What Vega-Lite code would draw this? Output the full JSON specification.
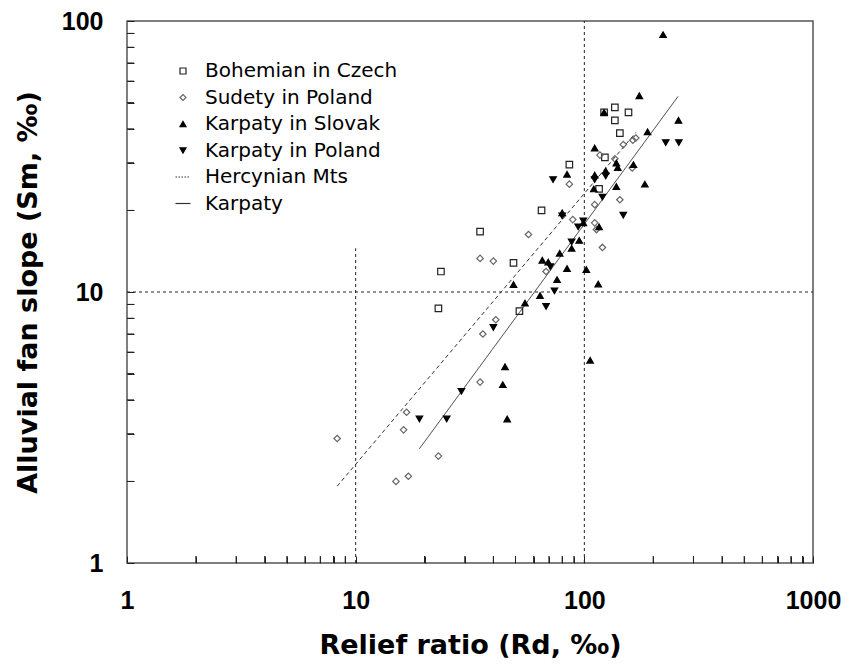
{
  "$schema": "https://vega.github.io/schema/vega-lite/v6.json",
  "autosize": {"type": "none"},
  "width": 686,
  "height": 542,
  "padding": {"left": 127, "top": 21, "right": 40, "bottom": 102},
  "background": "white",
  "config": {
    "view": {"stroke": "#555", "strokeWidth": 1.5, "fill": null}
  },
  "datasets": {
    "pts": [
      {"series": "Bohemian in Czech", "rd": 122, "sm": 46},
      {"series": "Bohemian in Czech", "rd": 136, "sm": 48},
      {"series": "Bohemian in Czech", "rd": 156, "sm": 46},
      {"series": "Bohemian in Czech", "rd": 136, "sm": 43},
      {"series": "Bohemian in Czech", "rd": 143, "sm": 38.6},
      {"series": "Bohemian in Czech", "rd": 123, "sm": 31.4},
      {"series": "Bohemian in Czech", "rd": 86, "sm": 29.5},
      {"series": "Bohemian in Czech", "rd": 116, "sm": 24},
      {"series": "Bohemian in Czech", "rd": 65, "sm": 20},
      {"series": "Bohemian in Czech", "rd": 35, "sm": 16.7},
      {"series": "Bohemian in Czech", "rd": 49, "sm": 12.8},
      {"series": "Bohemian in Czech", "rd": 23.6, "sm": 11.9},
      {"series": "Bohemian in Czech", "rd": 52, "sm": 8.5},
      {"series": "Bohemian in Czech", "rd": 23, "sm": 8.7},
      {"series": "Sudety in Poland", "rd": 148, "sm": 35},
      {"series": "Sudety in Poland", "rd": 163, "sm": 36.3},
      {"series": "Sudety in Poland", "rd": 168, "sm": 37},
      {"series": "Sudety in Poland", "rd": 117, "sm": 32},
      {"series": "Sudety in Poland", "rd": 136, "sm": 31},
      {"series": "Sudety in Poland", "rd": 162, "sm": 28.7},
      {"series": "Sudety in Poland", "rd": 86, "sm": 25},
      {"series": "Sudety in Poland", "rd": 143, "sm": 21.9},
      {"series": "Sudety in Poland", "rd": 111, "sm": 21},
      {"series": "Sudety in Poland", "rd": 57, "sm": 16.3},
      {"series": "Sudety in Poland", "rd": 89, "sm": 18.5},
      {"series": "Sudety in Poland", "rd": 111, "sm": 18},
      {"series": "Sudety in Poland", "rd": 113, "sm": 17},
      {"series": "Sudety in Poland", "rd": 120, "sm": 14.6},
      {"series": "Sudety in Poland", "rd": 68, "sm": 11.9},
      {"series": "Sudety in Poland", "rd": 40, "sm": 13},
      {"series": "Sudety in Poland", "rd": 35, "sm": 13.3},
      {"series": "Sudety in Poland", "rd": 41, "sm": 7.9},
      {"series": "Sudety in Poland", "rd": 36, "sm": 7.0},
      {"series": "Sudety in Poland", "rd": 35, "sm": 4.65},
      {"series": "Sudety in Poland", "rd": 16.7, "sm": 3.6},
      {"series": "Sudety in Poland", "rd": 16.2, "sm": 3.1},
      {"series": "Sudety in Poland", "rd": 8.3, "sm": 2.88},
      {"series": "Sudety in Poland", "rd": 23, "sm": 2.48},
      {"series": "Sudety in Poland", "rd": 17, "sm": 2.09},
      {"series": "Sudety in Poland", "rd": 15, "sm": 2.0},
      {"series": "Karpaty in Slovak", "rd": 221, "sm": 89},
      {"series": "Karpaty in Slovak", "rd": 174, "sm": 53},
      {"series": "Karpaty in Slovak", "rd": 122, "sm": 46},
      {"series": "Karpaty in Slovak", "rd": 258, "sm": 43},
      {"series": "Karpaty in Slovak", "rd": 189, "sm": 39},
      {"series": "Karpaty in Slovak", "rd": 111, "sm": 34},
      {"series": "Karpaty in Slovak", "rd": 138, "sm": 29.9},
      {"series": "Karpaty in Slovak", "rd": 140, "sm": 28.8},
      {"series": "Karpaty in Slovak", "rd": 164, "sm": 29.5},
      {"series": "Karpaty in Slovak", "rd": 84, "sm": 27.2},
      {"series": "Karpaty in Slovak", "rd": 111, "sm": 27},
      {"series": "Karpaty in Slovak", "rd": 124, "sm": 28},
      {"series": "Karpaty in Slovak", "rd": 138, "sm": 24.5},
      {"series": "Karpaty in Slovak", "rd": 184, "sm": 25},
      {"series": "Karpaty in Slovak", "rd": 110, "sm": 24},
      {"series": "Karpaty in Slovak", "rd": 99, "sm": 18},
      {"series": "Karpaty in Slovak", "rd": 116, "sm": 17.4},
      {"series": "Karpaty in Slovak", "rd": 88, "sm": 14.5},
      {"series": "Karpaty in Slovak", "rd": 95, "sm": 15.5},
      {"series": "Karpaty in Slovak", "rd": 78, "sm": 13.9},
      {"series": "Karpaty in Slovak", "rd": 65.5, "sm": 13.1},
      {"series": "Karpaty in Slovak", "rd": 69.5, "sm": 12.9},
      {"series": "Karpaty in Slovak", "rd": 84, "sm": 12.2},
      {"series": "Karpaty in Slovak", "rd": 102, "sm": 12.1},
      {"series": "Karpaty in Slovak", "rd": 76, "sm": 11.1},
      {"series": "Karpaty in Slovak", "rd": 115, "sm": 10.7},
      {"series": "Karpaty in Slovak", "rd": 49, "sm": 10.65},
      {"series": "Karpaty in Slovak", "rd": 64, "sm": 9.7},
      {"series": "Karpaty in Slovak", "rd": 55, "sm": 9.1},
      {"series": "Karpaty in Slovak", "rd": 106, "sm": 5.6},
      {"series": "Karpaty in Slovak", "rd": 45, "sm": 5.3},
      {"series": "Karpaty in Slovak", "rd": 44, "sm": 4.55},
      {"series": "Karpaty in Slovak", "rd": 46, "sm": 3.4},
      {"series": "Karpaty in Slovak", "rd": 80, "sm": 19.6},
      {"series": "Karpaty in Poland", "rd": 227, "sm": 35.6},
      {"series": "Karpaty in Poland", "rd": 259, "sm": 35.6},
      {"series": "Karpaty in Poland", "rd": 73, "sm": 26},
      {"series": "Karpaty in Poland", "rd": 124, "sm": 26.8},
      {"series": "Karpaty in Poland", "rd": 111, "sm": 26},
      {"series": "Karpaty in Poland", "rd": 120, "sm": 22.4},
      {"series": "Karpaty in Poland", "rd": 148, "sm": 19.2},
      {"series": "Karpaty in Poland", "rd": 80, "sm": 19.1},
      {"series": "Karpaty in Poland", "rd": 94, "sm": 17.4},
      {"series": "Karpaty in Poland", "rd": 99, "sm": 18.3},
      {"series": "Karpaty in Poland", "rd": 88, "sm": 15.3},
      {"series": "Karpaty in Poland", "rd": 71, "sm": 12.4},
      {"series": "Karpaty in Poland", "rd": 74, "sm": 10.1},
      {"series": "Karpaty in Poland", "rd": 68, "sm": 8.85},
      {"series": "Karpaty in Poland", "rd": 40, "sm": 7.4},
      {"series": "Karpaty in Poland", "rd": 29, "sm": 4.3},
      {"series": "Karpaty in Poland", "rd": 25, "sm": 3.4},
      {"series": "Karpaty in Poland", "rd": 19, "sm": 3.4}
    ],
    "fits": [
      {"series": "Hercynian Mts", "rd": 8.3, "sm": 1.92},
      {"series": "Hercynian Mts", "rd": 168, "sm": 38.8},
      {"series": "Karpaty", "rd": 19, "sm": 2.64},
      {"series": "Karpaty", "rd": 257, "sm": 52.7}
    ],
    "vgrid": [
      {"rd": 10, "sm": 1, "sm2": 14.5},
      {"rd": 100, "sm": 1, "sm2": 100}
    ],
    "hgrid": [
      {"rd": 1, "rd2": 1000, "sm": 10}
    ],
    "xticks": [
      {"rd": 2, "sm": 1}, {"rd": 3, "sm": 1}, {"rd": 4, "sm": 1}, {"rd": 5, "sm": 1},
      {"rd": 6, "sm": 1}, {"rd": 7, "sm": 1}, {"rd": 8, "sm": 1}, {"rd": 9, "sm": 1},
      {"rd": 20, "sm": 1}, {"rd": 30, "sm": 1}, {"rd": 40, "sm": 1}, {"rd": 50, "sm": 1},
      {"rd": 60, "sm": 1}, {"rd": 70, "sm": 1}, {"rd": 80, "sm": 1}, {"rd": 90, "sm": 1},
      {"rd": 200, "sm": 1}, {"rd": 300, "sm": 1}, {"rd": 400, "sm": 1}, {"rd": 500, "sm": 1},
      {"rd": 600, "sm": 1}, {"rd": 700, "sm": 1}, {"rd": 800, "sm": 1}, {"rd": 900, "sm": 1}
    ],
    "yticks": [
      {"rd": 1, "sm": 2}, {"rd": 1, "sm": 3}, {"rd": 1, "sm": 4}, {"rd": 1, "sm": 5},
      {"rd": 1, "sm": 6}, {"rd": 1, "sm": 7}, {"rd": 1, "sm": 8}, {"rd": 1, "sm": 9},
      {"rd": 1, "sm": 20}, {"rd": 1, "sm": 30}, {"rd": 1, "sm": 40}, {"rd": 1, "sm": 50},
      {"rd": 1, "sm": 60}, {"rd": 1, "sm": 70}, {"rd": 1, "sm": 80}, {"rd": 1, "sm": 90}
    ]
  },
  "layer": [
    {
      "data": {"name": "vgrid"},
      "mark": {"type": "rule", "color": "#222", "strokeDash": [3, 3], "strokeWidth": 1},
      "encoding": {
        "x": {
          "field": "rd", "type": "quantitative", "scale": {"type": "log", "domain": [1, 1000]},
          "axis": {
            "title": "Relief ratio (Rd, ‰)", "grid": false, "domain": false, "zindex": 2,
            "values": [2,3,4,5,6,7,8,9,10,20,30,40,50,60,70,80,90,100,200,300,400,500,600,700,800,900,1,1000],
            "labelExpr": "indexof([1,10,100,1000], datum.value) >= 0 ? datum.value : ''",
            "offset": -7, "tickSize": 7, "tickColor": "#222", "tickWidth": 1,
            "labelFont": "Liberation Sans", "labelFontWeight": "bold", "labelFontSize": 25, "labelColor": "#000",
            "labelPadding": 25, "labelAlign": "center",
            "titleFont": "DejaVu Sans", "titleFontWeight": "bold", "titleFontSize": 27, "titleColor": "#000",
            "titleX": 343, "titleY": 89, "titleBaseline": "middle", "titleAlign": "center"
          }
        },
        "y": {
          "field": "sm", "type": "quantitative", "scale": {"type": "log", "domain": [1, 100]},
          "axis": {
            "title": "Alluvial fan slope (Sm, ‰)", "grid": false, "domain": false, "zindex": 2,
            "values": [2,3,4,5,6,7,8,9,10,20,30,40,50,60,70,80,90,1,100],
            "labelExpr": "indexof([1,10,100], datum.value) >= 0 ? datum.value : ''",
            "offset": -7, "tickSize": 7, "tickColor": "#222", "tickWidth": 1,
            "labelFont": "Liberation Sans", "labelFontWeight": "bold", "labelFontSize": 25, "labelColor": "#000",
            "labelPadding": 24, "labelBaseline": "middle",
            "titleFont": "DejaVu Sans", "titleFontWeight": "bold", "titleFontSize": 27, "titleColor": "#000",
            "titleX": -106, "titleY": 271, "titleBaseline": "middle", "titleAlign": "center", "titleAngle": -90
          }
        },
        "y2": {"field": "sm2"}
      }
    },
    {
      "data": {"name": "xticks"},
      "mark": {"type": "tick", "orient": "vertical", "size": 14, "thickness": 1, "color": "#222", "clip": true, "opacity": 1},
      "encoding": {
        "x": {"field": "rd", "type": "quantitative"},
        "y": {"field": "sm", "type": "quantitative"}
      }
    },
    {
      "data": {"name": "yticks"},
      "mark": {"type": "tick", "orient": "horizontal", "size": 14, "thickness": 1, "color": "#222", "clip": true, "opacity": 1},
      "encoding": {
        "x": {"field": "rd", "type": "quantitative"},
        "y": {"field": "sm", "type": "quantitative"}
      }
    },
    {
      "data": {"name": "hgrid"},
      "mark": {"type": "rule", "color": "#222", "strokeDash": [3, 3], "strokeWidth": 1},
      "encoding": {
        "x": {"field": "rd", "type": "quantitative"},
        "x2": {"field": "rd2"},
        "y": {"field": "sm", "type": "quantitative"}
      }
    },
    {
      "data": {"name": "fits"},
      "mark": {"type": "line", "strokeWidth": 1, "color": "#333"},
      "encoding": {
        "x": {"field": "rd", "type": "quantitative"},
        "y": {"field": "sm", "type": "quantitative"},
        "detail": {"field": "series"},
        "strokeDash": {
          "field": "series",
          "type": "nominal",
          "scale": {"domain": ["Hercynian Mts", "Karpaty"], "range": [[4, 3], [1, 0]]},
          "legend": null
        }
      }
    },
    {
      "data": {"name": "pts"},
      "mark": {"type": "point", "filled": false, "strokeWidth": 1.2, "opacity": 1},
      "encoding": {
        "x": {"field": "rd", "type": "quantitative"},
        "y": {"field": "sm", "type": "quantitative"},
        "shape": {
          "field": "series", "type": "nominal",
          "scale": {
            "domain": ["Bohemian in Czech", "Sudety in Poland", "Karpaty in Slovak", "Karpaty in Poland", "Hercynian Mts", "Karpaty"],
            "range": ["square", "diamond", "triangle-up", "triangle-down",
              "M-2.5,0L-2,0M-1.5,0L-1,0M-0.5,0L0,0M0.5,0L1,0M1.5,0L2,0",
              "M-2.5,0L2.5,0"]
          },
          "legend": {
            "title": null, "orient": "none", "legendX": 46, "legendY": 40, "padding": 0,
            "symbolSize": 36, "symbolStrokeWidth": 1.2,
            "labelFont": "DejaVu Sans", "labelFontSize": 20, "labelColor": "#000", "labelLimit": 400,
            "labelOffset": 12, "rowPadding": 6.5, "symbolOffset": 0
          }
        },
        "fill": {
          "field": "series", "type": "nominal",
          "scale": {
            "domain": ["Bohemian in Czech", "Sudety in Poland", "Karpaty in Slovak", "Karpaty in Poland", "Hercynian Mts", "Karpaty"],
            "range": ["transparent", "transparent", "#000", "#000", "transparent", "transparent"]
          }
        },
        "stroke": {
          "field": "series", "type": "nominal",
          "scale": {
            "domain": ["Bohemian in Czech", "Sudety in Poland", "Karpaty in Slovak", "Karpaty in Poland", "Hercynian Mts", "Karpaty"],
            "range": ["#222", "#666", "#000", "#000", "#333", "#333"]
          }
        },
        "size": {"value": 42}
      }
    }
  ]
}
